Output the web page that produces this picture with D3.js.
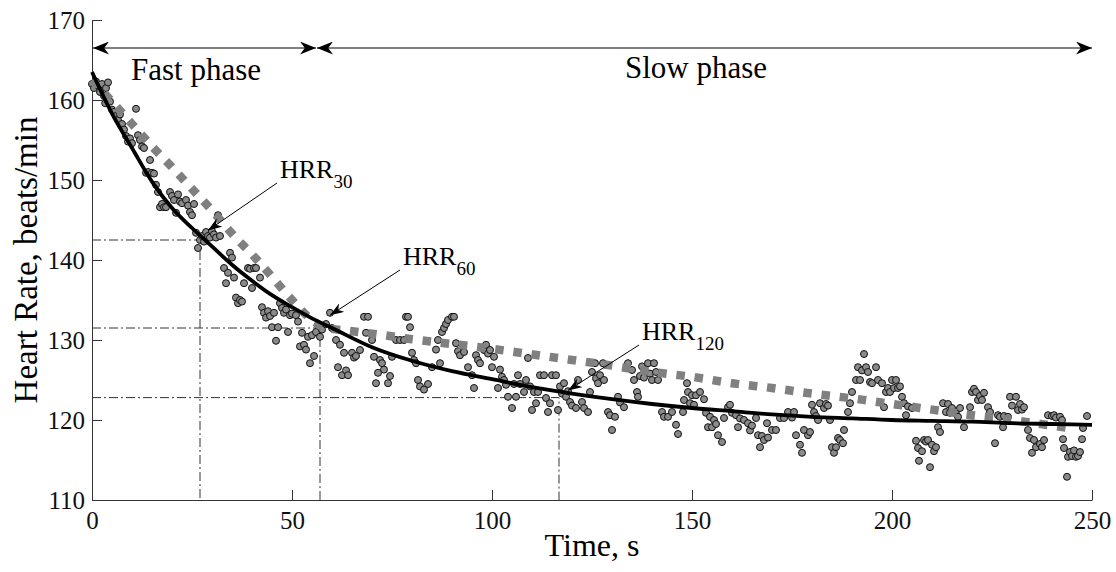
<!DOCTYPE html>
<html lang="en">
<head>
<meta charset="utf-8">
<title>Heart Rate Recovery</title>
<script src="https://d3js.org/d3.v7.min.js"></script>
<style>
  body { margin: 0; background: #fff; }
  svg { font-family: "Liberation Serif", "Times New Roman", serif; }
  .axis path, .axis line { stroke: #333; stroke-width: 1px; }
  .axis text { font-family: "Liberation Serif", serif; font-size: 25px; fill: #111; }
  .guide { fill: none; stroke: #333; stroke-width: 1px; stroke-dasharray: 9 3 2 3; }
  .dot { fill: #8a8a8a; stroke: #111; stroke-width: 1px; }
</style>
</head>
<body>
<script>
// ---- data ----
var xTicks = [0, 50, 100, 150, 200, 250];
var yTicks = [110, 120, 130, 140, 150, 160, 170];

// measured heart rate [time s, beats/min]
var hrPoints = [
  [0,162],[0.5,161.5],[1,162.3],[1.5,161.8],[2,161],[2.5,162],[3,160.5],[3.3,159.6],[3.5,161.5],[4,162.2],[4.5,159.8],[5,158.8],
  [5.5,158.5],[6,158],[6.5,157.5],[7,158.2],[7.5,157],[8,156.3],[8.5,155.5],[9,154.8],[9.5,155.2],[10,154.6],
  [11,158.9],[11.5,155.6],[12,155],[12.5,154.2],[13,154],[13.5,150.9],[14,151],[14.5,152.5],[15,150.9],
  [15.5,150.8],[16,149.4],[16.5,148.5],[17,146.6],[17.5,147],[18,146.6],[18.5,146.6],[19.5,148.5],[20,148],
  [20.5,147.5],[21,145.9],[21.5,148.2],[22,147.3],[22.5,147.1],[23.5,147.5],[24,146.8],[24.5,146],[25,145.6],[25.5,147],
  [26,143.4],[26.5,141.5],[27,142.5],[27.5,143],[28,142.3],[28.5,143.5],[29,143],[29.5,142.8],[30,143.6],[30.5,143.2],
  [31,142.8],[31.5,145.6],[32,143],[33,139],[33.5,137.1],[34,138.4],[34.5,140.9],[35,140.3],[35.5,137.8],
  [36,135.3],[36.5,134.6],[37,135],[37.5,134.8],[38,137.1],[39,139],[39.5,138.9],[40,136.5],[40.5,139],[41,139],[42,137.8],
  [42.5,134.1],[43,133.4],[43.5,132.8],[44,133.6],[44.5,133],[45,131.6],[45.5,133.4],[46,129.9],[46.5,131.6],
  [47,134.6],[47.5,134],[48,133.4],[48.5,133.8],[49,131],[49.5,133.1],[50,133.3],
  [51,133.1],[51.5,132.3],[52,129.2],[52.5,130.9],[53,129.4],[53.5,128.8],[54,130.4],[54.5,127.1],[55,130.6],
  [55.5,128],[56,131],[56.5,131.9],[57,130.4],[57.5,131.3],
  [58.5,132],[59.5,133.4],[60,131.5],[61,130],[61.5,126.6],[62,129.4],[62.5,125.6],[63,128.4],[63.5,126.2],
  [64,125.6],[65,128.4],[65.5,127.8],[66,128],
  [67,128.75],[68,132.9],[68.5,130.9],[69,132.9],[70,130],[70.5,127.9],[71,124.6],[71.5,125.9],[72,127.5],
  [72.5,127.1],[73,126.3],[74,124.6],[74.5,125.5],[75,127.9],[76,130],[77,130],
  [78,130],[78.5,132.9],[79,132.9],[79.5,131.6],[80,128.4],[80.5,127.5],[81,127.1],[81.5,125],[82,124.2],
  [83,123.8],[84,124.5],[85,126.6],
  [86,128.8],[86.5,130],[87,127.1],[87.5,131],[88,131.5],[88.5,132],[89,132.5],[90,132.9],[90.5,132.9],
  [91,129.6],[91.5,128.6],[92,128.1],[93,128.5],
  [94,126.6],[95,125.6],[95.5,124],[96,128.1],[96.5,127.5],[97,127.1],[98,128.75],[98.5,129.4],[99,128.3],
  [99.5,128.75],[100,126.6],[100.5,127.9],
  [101.5,124],[102,126.3],[102.5,125.4],[103,125],[103.5,124.4],[104,122.9],[105,121.5],[105.5,124.5],[106,122.9],
  [106.5,125.6],[107,124.5],[108,123.5],[108.5,125],[109,127.75],[109.5,124.2],[110,121.25],
  [110.5,123.5],[111,122.1],[111.5,123.5],[112,125.6],[113,125.6],[113.5,122.75],[114,121],[114.5,122.1],
  [115,125.6],[116,125.6],[116.5,121.25],[117,124.2],[117.5,123.3],[118,124.6],[118.5,122.9],[119,123.6],
  [119.5,122.25],[120,121.8],[121,121.5],[121.5,125],
  [122.5,122.25],[123,121.5],[124,121],[124.5,123.5],[125,126],[125.75,127.1],[126,125.2],[126.5,124.6],
  [127,125.6],[127.75,127.1],[128,125],[129,121],[129.5,120.6],[130,118.75],[130.75,120.4],
  [131.5,122.9],[132,122.2],[133,121.6],[134,127.1],[135,126.25],[135.5,125],[136.25,123.5],[136.5,122.9],
  [137,125.5],[137.5,126.7],[138,125.3],[139,127.1],[139.5,125.8],[140,125],[140.5,127.1],[141,126],[141.5,125],
  [142.5,121],[143,120.4],[144,120.4],[145,121],[146,119.4],[146.5,118.25],[147.75,121],[148,122.5],
  [148.75,124.6],[149,123.5],[149.5,122.1],[150,123.1],[150.5,121.9],
  [151,123.1],[152,123.5],[153,122.6],[153.5,120.9],[154,119.1],[154.5,120.4],[155,119.1],[155.5,120],
  [156,119.5],[156.5,118.1],[157.5,117.25],[158,120.25],[159,121.6],[159.5,121.9],[160,120.9],
  [161,120.6],[161.5,119.1],[162,120.2],[163,120],[164,119.6],[164.5,118.7],[165,119.3],[166,120.25],
  [166.5,118.1],[167,116.6],[167.5,118],[168,117.5],[168.75,119.6],[169,117.8],[170,118.75],[171,118.75],
  [172,120.25],[173,120.25],[174,121],[175,120.3],[175.5,121],[176,118.1],[177,116.9],[177.5,115.9],
  [178,118.75],[179,118.1],[179.5,118.5],[180,121.9],[180.5,121],[181,120.5],[181.5,120],
  [182,122.1],[183,121.5],[183.5,122],[184,121.8],[184.5,120],[185,116.6],[185.5,115.9],[186,116.6],
  [186.5,117.75],[187,117.5],[187.75,117.1],[188,118.75],[189,121],[189.5,122.1],[190,123.5],
  [191,125],[191.5,126.6],[192,125],[192.5,126.2],[193,128.25],[193.5,126.6],[194,126],[194.5,124.75],
  [195,124.6],[196,126.6],[196.5,125],[197.5,124.6],[198,121.6],[198.5,123.5],[199,124],[199.5,123.5],
  [200,125],[200.5,124],
  [201,125],[201.5,124],[202,124.2],[202.5,122.9],[203,122.1],[203.5,120.6],[204,121.7],[205,121.5],
  [206,117.4],[206.5,116.5],[206.75,114.9],[207.5,116.1],[208,117.5],[208.5,117.3],[209,117.5],[209.5,114.1],
  [210,116.9],[210.5,116.1],[211,116.6],[211.5,119.1],[212,118.5],
  [212.75,122.1],[213.5,121],[214,122],[214.5,120.9],[215,121.5],[216,120.8],[216.5,120.4],[217,121.5],
  [218,119.1],[219.5,121.6],[220,123.5],
  [220.5,123.9],[221,123.5],[221.5,122.5],[222,123],[222.5,122.5],[223,123.4],[224,121.6],[224.5,121],
  [225.75,117.1],[226.5,120.6],[227,120.4],[227.75,119.1],[228,120.5],[229,120.4],[229.5,122.9],
  [230,121.8],[231,122.9],[231.5,121.25],[232,122],[232.5,121.3],[233,121.6],[234,118.75],[234.5,117.75],
  [235,115.9],[235.5,117.5],[236,116.6],[237,117],[237.5,116.6],[238,117.5],[239,120.6],
  [240,120.5],[240.5,120.6],[241,120.3],[242,120.4],[242.5,120],[242.75,117.6],[243,116.5],[243.75,112.9],
  [244,115.4],[244.5,116],[245,115.5],[245.5,116.2],[246,115.4],[246.5,115.5],[247,116],[247.5,117.6],
  [247.75,119],[248.75,120.5]
];

// mono-exponential fit (solid black)
var fitCurve = [
  [0,163.5],[5,158.3],[10,154],[15,149.8],[20,146.5],[25,144],[30,141.7],[35,139.4],[40,137.4],[45,135.6],
  [50,134.1],[55,132.7],[60,131.5],[70,129.1],[80,127.4],[90,126.1],[100,125.1],[110,124.1],[120,123.3],
  [130,122.6],[140,122],[150,121.5],[160,121.1],[170,120.7],[180,120.4],[190,120.2],[200,120],[210,119.9],
  [220,119.8],[230,119.6],[240,119.5],[250,119.4]
];

// two-phase fit (gray dotted)
var phaseFit = [
  [0,162.5],[5,159.8],[10,157],[15,154.2],[20,151.6],[25,148.9],[30,146.2],[35,143.3],[40,140.7],[45,137.9],
  [50,135],[55,132.5],[58,131.6],[65,131.1],[70,130.8],[80,130.1],[90,129.5],[100,128.9],[110,128.2],
  [120,127.5],[130,126.8],[140,126],[150,125.4],[160,124.6],[170,124],[180,123.3],[190,122.7],[200,122],
  [210,121.3],[220,120.6],[230,120],[244,119]
];

// HRR reference points
var hrrLabels = ["30", "60", "120"];
var hrrTimes = [27, 57, 116.75];
var hrrValues = [142.5, 131.5, 122.8];

// phase split
var phaseNames = ["Fast phase", "Slow phase"];
var phaseBounds = [0, 56, 250];

// ---- chart ----
var w = 1116, h = 572;

var svg = d3.select("body").append("svg")
  .attr("width", w)
  .attr("height", h);

var x = d3.scaleLinear().domain([0, 250]).range([92, 1092]);
var y = d3.scaleLinear().domain([110, 170]).range([500, 20]);

// arrow heads
var defs = svg.append("defs");
function head(id, len, half) {
  defs.append("marker")
    .attr("id", id)
    .attr("viewBox", [0, -half, len, 2 * half].join(" "))
    .attr("refX", len)
    .attr("refY", 0)
    .attr("markerUnits", "userSpaceOnUse")
    .attr("markerWidth", len)
    .attr("markerHeight", 2 * half)
    .attr("orient", "auto-start-reverse")
    .append("path")
    .attr("d", "M0," + (-half) + "L" + len + ",0L0," + half + "L" + (len * 0.3) + ",0Z")
    .attr("fill", "#000");
}
head("big", 16, 6.5);
head("small", 14, 5);

// axes
svg.append("g")
  .attr("class", "axis")
  .attr("transform", "translate(0," + y(110) + ")")
  .call(d3.axisBottom(x).tickValues(xTicks).tickSizeInner(-10).tickSizeOuter(0).tickPadding(11));

svg.append("g")
  .attr("class", "axis")
  .attr("transform", "translate(" + x(0) + ",0)")
  .call(d3.axisLeft(y).tickValues(yTicks).tickSizeInner(-10).tickSizeOuter(0).tickPadding(7));

svg.append("text")
  .attr("x", x(125))
  .attr("y", 556)
  .attr("text-anchor", "middle")
  .style("font-size", "32px")
  .text("Time, s");

svg.append("text")
  .attr("transform", "translate(37," + y(140) + ") rotate(-90)")
  .attr("text-anchor", "middle")
  .style("font-size", "33px")
  .text("Heart Rate, beats/min");

// dash-dot guides for HRR points
hrrTimes.forEach(function(t, i) {
  svg.append("path")
    .attr("class", "guide")
    .attr("d", "M" + x(0) + "," + y(hrrValues[i]) + "H" + x(t) + "V" + y(110));
});

// scatter
svg.append("g")
  .selectAll("circle")
  .data(hrPoints)
  .enter().append("circle")
  .attr("class", "dot")
  .attr("cx", function(d) { return x(d[0]); })
  .attr("cy", function(d) { return y(d[1]); })
  .attr("r", 3.5);

var line = d3.line()
  .x(function(d) { return x(d[0]); })
  .y(function(d) { return y(d[1]); })
  .curve(d3.curveMonotoneX);

svg.append("path")
  .datum(phaseFit)
  .attr("d", line)
  .attr("fill", "none")
  .attr("stroke", "#808080")
  .attr("stroke-width", 8.5)
  .attr("stroke-dasharray", "8.5 9.8");

svg.append("path")
  .datum(fitCurve)
  .attr("d", line)
  .attr("fill", "none")
  .attr("stroke", "#000")
  .attr("stroke-width", 3.8);

// phase arrows
var arrowY = 48;
for (var i = 0; i < 2; i++) {
  svg.append("line")
    .attr("x1", x(phaseBounds[i]) + 1)
    .attr("x2", x(phaseBounds[i + 1]))
    .attr("y1", arrowY)
    .attr("y2", arrowY)
    .attr("stroke", "#000")
    .attr("stroke-width", 1.2)
    .attr("marker-start", "url(#big)")
    .attr("marker-end", "url(#big)");
}
svg.append("text")
  .attr("x", 196)
  .attr("y", 80)
  .attr("text-anchor", "middle")
  .style("font-size", "31px")
  .text(phaseNames[0]);
svg.append("text")
  .attr("x", 696)
  .attr("y", 78)
  .attr("text-anchor", "middle")
  .style("font-size", "31px")
  .text(phaseNames[1]);

// HRR labels with arrows
var labelPos = [[280, 178], [403, 265], [642, 340]];
var tipOffset = [[2, 1.2], [2.5, 1.6], [2.25, 0.9]];
hrrLabels.forEach(function(lab, i) {
  var lx = labelPos[i][0], ly = labelPos[i][1];
  svg.append("line")
    .attr("x1", lx - 3)
    .attr("y1", ly + 5)
    .attr("x2", x(hrrTimes[i] + tipOffset[i][0]))
    .attr("y2", y(hrrValues[i] + tipOffset[i][1]))
    .attr("stroke", "#000")
    .attr("stroke-width", 1)
    .attr("marker-end", "url(#small)");
  var t = svg.append("text")
    .attr("x", lx)
    .attr("y", ly)
    .style("font-size", "26px");
  t.append("tspan").text("HRR");
  t.append("tspan")
    .attr("dy", 10)
    .style("font-size", "19px")
    .text(lab);
});
</script>
</body>
</html>
